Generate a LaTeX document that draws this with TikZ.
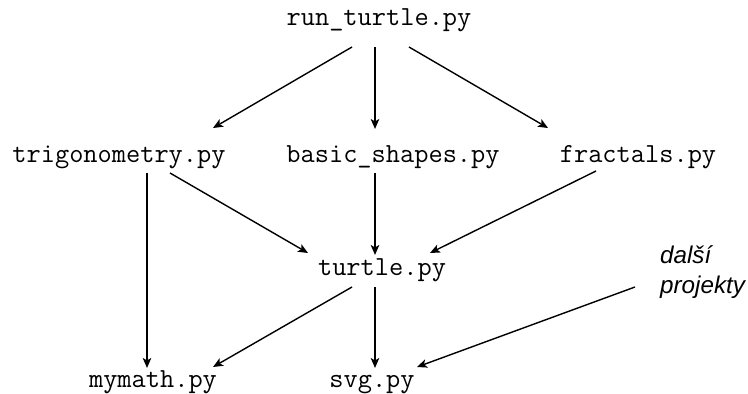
\documentclass[tikz,border=0pt]{standalone}
\usepackage{fontspec}
\newfontfamily\labelfont{Liberation Sans}
\usetikzlibrary{arrows.meta,calc}
\begin{document}
\begin{tikzpicture}[x=1pt,y=-1pt,
  file/.style={font=\ttfamily\fontsize{27.6}{32}\selectfont, inner sep=0pt, anchor=base},
  note/.style={font=\labelfont\itshape\fontsize{24.2}{30}\selectfont, inner sep=0pt, align=left},
  dep/.style={-{Stealth[length=10pt,width=8.5pt,inset=2.5pt]}, line width=1.4pt}]
\useasboundingbox (0,0) rectangle (748,394);
\node[file] (run) at (379,25) {run\_turtle.py};
\node[file] (trig) at (119,162) {trigonometry.py};
\node[file] (basic) at (393,162) {basic\_shapes.py};
\node[file] (frac) at (638,162) {fractals.py};
\node[file] (turtle) at (382,275) {turtle.py};
\node[file] (mymath) at (153,387) {mymath.py};
\node[file] (svg) at (372,387) {svg.py};
\node[note, anchor=north west] (more) at (660,245) {další\\projekty};
\draw[dep] ($(run.base)+(-27,22)$) -- ($(trig.base)+(94,-34)$);
\draw[dep] ($(run.base)+(-4,22)$) -- ($(basic.base)+(-18,-33)$);
\draw[dep] ($(run.base)+(30,22)$) -- ($(frac.base)+(-90,-34)$);
\draw[dep] ($(trig.base)+(28,11)$) -- ($(mymath.base)+(-6,-19)$);
\draw[dep] ($(trig.base)+(51,11)$) -- ($(turtle.base)+(-74,-22)$);
\draw[dep] ($(basic.base)+(-18,11)$) -- ($(turtle.base)+(-7,-20)$);
\draw[dep] ($(frac.base)+(-42,9)$) -- ($(turtle.base)+(48,-22)$);
\draw[dep] ($(turtle.base)+(-30,12)$) -- ($(mymath.base)+(60,-20)$);
\draw[dep] ($(turtle.base)+(-7,12)$) -- ($(svg.base)+(3,-19)$);
\draw[dep] ($(more.north west)+(-25,42)$) -- ($(svg.base)+(45,-20)$);
\end{tikzpicture}
\end{document}
